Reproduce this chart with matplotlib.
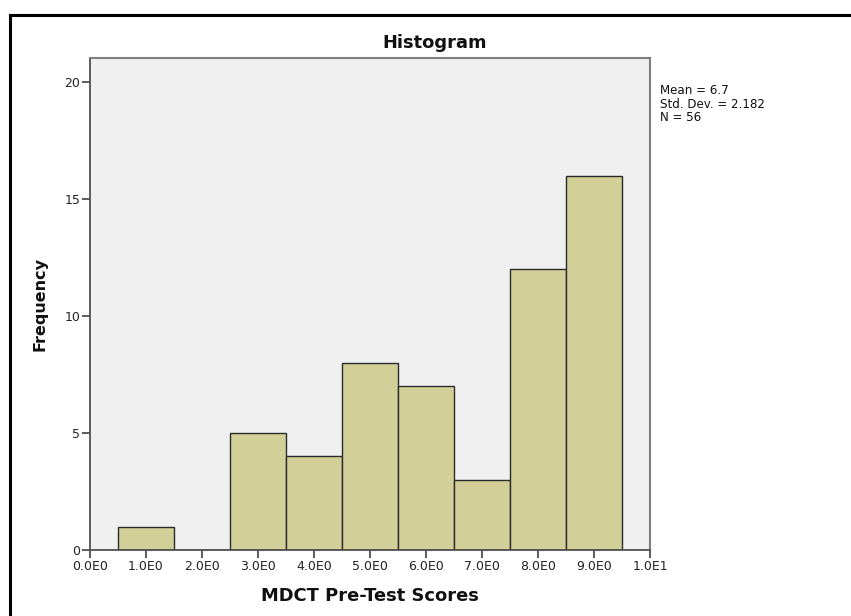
import matplotlib.pyplot as plt
from matplotlib.lines import Line2D

plt.rcParams["font.family"] = ["DejaVu Sans"]

# score bins (centres) and their frequencies
scores = [1, 2, 3, 4, 5, 6, 7, 8, 9]
counts = [1, 0, 5, 4, 8, 7, 3, 12, 16]
x_ticks = [0, 1, 2, 3, 4, 5, 6, 7, 8, 9, 10]
x_tick_labels = ["0.0E0", "1.0E0", "2.0E0", "3.0E0", "4.0E0", "5.0E0",
                 "6.0E0", "7.0E0", "8.0E0", "9.0E0", "1.0E1"]
y_ticks = [0, 5, 10, 15, 20]
stats_lines = ["Mean = 6.7", "Std. Dev. = 2.182", "N = 56"]

W, H = 851, 616
fig = plt.figure(figsize=(W / 100, H / 100), dpi=100, facecolor="white")
ax = fig.add_axes([90 / W, (H - 550) / H, (650 - 90) / W, (550 - 57.5) / H])
ax.set_facecolor("#f0f0f0")

ax.bar(scores, counts, width=1.0, color="#d3cf98", edgecolor="#2b2b2b", linewidth=1.0, zorder=2)

ax.set_xlim(0, 10)
ax.set_ylim(0, 21.05)
ax.set_xticks(x_ticks)
ax.set_xticklabels(x_tick_labels)
ax.set_yticks(y_ticks)
ax.tick_params(axis="both", direction="out", length=6, width=1.2, color="#404040",
               labelsize=9, labelcolor="#222222", pad=1)

for side in ["top", "right"]:
    ax.spines[side].set_color("#7f7f7f")
    ax.spines[side].set_linewidth(1.5)
for side in ["left", "bottom"]:
    ax.spines[side].set_color("#505050")
    ax.spines[side].set_linewidth(1.3)

# title is centred over the whole chart frame, not just the plot area
fig.text(435 / W, 1 - 48 / H, "Histogram", fontsize=12.9, fontweight="bold",
         ha="center", va="baseline", color="#111111")

ax.set_xlabel("MDCT Pre-Test Scores", fontsize=12.9, fontweight="bold", color="#111111")
ax.xaxis.set_label_coords(0.5, (550 - 601) / 492.5)
ax.xaxis.label.set_va("baseline")

ax.set_ylabel("Frequency", fontsize=11.5, fontweight="bold", color="#111111")
ax.yaxis.set_label_coords((40 - 90) / 560, 0.5)
ax.yaxis.label.set_va("center")

fig.text(660 / W, 1 - 84.5 / H, "\n".join(stats_lines), fontsize=8.6, va="top", ha="left",
         linespacing=1.03, color="#111111")

# outer frame (top and left edges only)
fig.add_artist(Line2D([9.5 / W, 1], [1 - 14.5 / H, 1 - 14.5 / H], color="black", lw=2.2,
                      transform=fig.transFigure))
fig.add_artist(Line2D([9.5 / W, 9.5 / W], [0, 1 - 14.5 / H], color="black", lw=2.2,
                      transform=fig.transFigure))

fig.savefig("out.png", dpi=100)
